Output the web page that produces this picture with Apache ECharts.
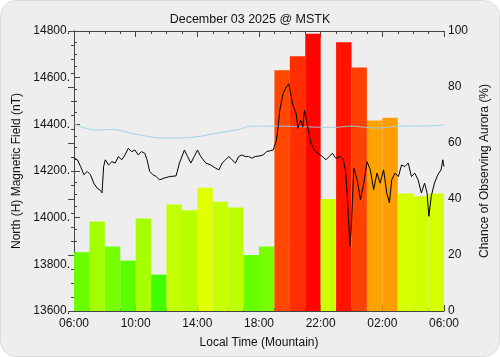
<!DOCTYPE html>
<html>
<head>
<meta charset="utf-8">
<script src="https://cdn.jsdelivr.net/npm/echarts@6/dist/echarts.min.js"></script>
<style>
  html, body { margin: 0; padding: 0; background: #fff; }
  #chart { width: 500px; height: 357px; background: #eeeeee; border-radius: 16px; box-sizing: border-box; border: 1px solid #dcdcdc; }
</style>
</head>
<body>
<div id="chart"></div>
<script>
// hourly aurora chance (%), from 06:00 local to 06:00 next day
var hourSlots = ['06','07','08','09','10','11','12','13','14','15','16','17','18','19','20','21','22','23','00','01','02','03','04','05'];
var auroraChance = [21, 32, 23, 18, 33, 13, 38, 36, 44, 39, 37, 20, 23, 86, 91, 99, 40, 96, 87, 68, 69, 42, 41, 42];

// magnetometer H component: hours after 06:00, nT
var magTime = [0.00,0.22,0.43,0.64,0.86,1.07,1.28,1.50,1.71,1.82,1.92,2.03,2.24,2.46,2.67,2.88,3.10,3.31,3.52,3.74,
  3.95,4.16,4.38,4.59,4.74,4.91,5.12,5.34,5.55,5.87,6.19,6.62,6.84,7.16,7.37,7.58,7.80,8.01,8.22,8.55,
  8.87,9.19,9.40,9.61,9.83,10.04,10.25,10.47,10.68,10.89,11.11,11.32,11.53,11.75,12.07,12.28,12.49,12.92,13.03,13.13,
  13.24,13.35,13.56,13.77,13.93,14.03,14.20,14.41,14.52,14.70,14.84,14.95,15.16,15.37,15.59,15.80,16.12,16.34,16.55,16.76,
  16.98,17.30,17.47,17.62,17.73,17.90,18.00,18.15,18.37,18.58,18.80,19.01,19.22,19.44,19.65,19.86,20.08,20.29,20.46,20.61,
  20.82,21.04,21.25,21.46,21.68,21.89,22.10,22.32,22.53,22.74,22.90,23.02,23.17,23.38,23.60,23.81,23.92,24.00];
var magField = [14255,14248,14219,14184,14198,14184,14148,14127,14117,14106,14219,14248,14226,14240,14234,14262,14248,14269,14297,14283,
  14290,14269,14283,14276,14248,14198,14184,14176,14162,14170,14176,14179,14234,14290,14262,14234,14262,14290,14262,14234,
  14226,14212,14205,14234,14248,14262,14248,14234,14262,14269,14262,14262,14255,14262,14265,14269,14283,14290,14297,14333,
  14389,14461,14532,14560,14574,14538,14482,14446,14383,14418,14389,14461,14389,14319,14290,14276,14262,14248,14262,14276,
  14255,14262,14248,14198,14091,13878,13978,14212,14162,14077,14148,14240,14205,14120,14191,14148,14205,14106,14063,14162,
  14191,14176,14226,14219,14234,14176,14191,14162,14106,14148,14106,14006,14091,14148,14184,14205,14248,14219];

// quiet-day baseline
var baseTime = [0, 1.5, 2.35, 4.06, 5.98, 7.48, 9.19, 10.68, 11.53, 13.45, 15.16, 16.87, 17.94, 19.0, 19.6, 21.14, 23.28, 24];
var baseField = [14404, 14375, 14378, 14357, 14341, 14344, 14361, 14378, 14392, 14392, 14389, 14387, 14392, 14387, 14384, 14392, 14394, 14398];

var timeTicks = ['06:00', '10:00', '14:00', '18:00', '22:00', '02:00', '06:00'];

function pairs(xs, ys) {
  return xs.map(function (x, i) { return [x, ys[i]]; });
}

var chart = echarts.init(document.getElementById('chart'), null, { renderer: 'canvas' });
var font = 'Liberation Sans';
var axisColor = '#444';

var timeAxisBase = {
  type: 'value',
  min: 0,
  max: 24,
  interval: 4,
  axisLine: { show: true, lineStyle: { color: axisColor } },
  axisTick: { show: true, inside: true, length: 6, lineStyle: { color: axisColor } },
  minorTick: { show: true, splitNumber: 4, length: 3, lineStyle: { color: axisColor } },
  splitLine: { show: false },
  minorSplitLine: { show: false }
};

option = {
  animation: false,
  textStyle: { fontFamily: font },
  title: {
    text: 'December 03 2025 @ MSTK',
    left: 'center',
    top: 7,
    textStyle: { fontSize: 12.5, fontWeight: 'normal', color: '#111', fontFamily: font }
  },
  grid: { left: 73, right: 52, top: 30, bottom: 45 },
  visualMap: {
    show: false,
    seriesIndex: 0,
    min: 0,
    max: 100,
    inRange: { color: ['#00ff00', '#ffff00', '#ff0000'] }
  },
  xAxis: [
    {
      type: 'category',
      data: hourSlots,
      boundaryGap: true,
      show: false
    },
    Object.assign({}, timeAxisBase, {
      position: 'bottom',
      name: 'Local Time (Mountain)',
      nameLocation: 'middle',
      nameGap: 26,
      nameTextStyle: { fontSize: 12, color: '#111', fontFamily: font },
      axisLabel: {
        margin: 7,
        fontSize: 12,
        color: '#111',
        fontFamily: font,
        formatter: function (v) { return timeTicks[Math.round(v / 4)]; }
      }
    }),
    Object.assign({}, timeAxisBase, {
      position: 'top',
      axisLabel: { show: false }
    })
  ],
  yAxis: [
    {
      type: 'value',
      min: 13600,
      max: 14800,
      interval: 200,
      position: 'left',
      name: 'North (H) Magnetic Field (nT)',
      nameLocation: 'middle',
      nameRotate: 90,
      nameGap: 49,
      nameTextStyle: { fontSize: 12, color: '#111', fontFamily: font },
      axisLine: { show: true, lineStyle: { color: axisColor } },
      axisTick: { show: true, inside: true, length: 6, lineStyle: { color: axisColor } },
      minorTick: { show: true, splitNumber: 4, length: 3, lineStyle: { color: axisColor } },
      splitLine: { show: false },
      axisLabel: {
        margin: 4,
        fontSize: 12,
        color: '#111',
        fontFamily: font,
        formatter: function (v) { return v + '.'; }
      }
    },
    {
      type: 'value',
      min: 0,
      max: 100,
      interval: 20,
      position: 'right',
      name: 'Chance of Observing Aurora (%)',
      nameLocation: 'middle',
      nameRotate: 90,
      nameGap: 35,
      nameTextStyle: { fontSize: 12, color: '#111', fontFamily: font },
      axisLine: { show: true, lineStyle: { color: axisColor } },
      axisTick: { show: true, inside: true, length: 6, lineStyle: { color: axisColor } },
      minorTick: { show: true, splitNumber: 4, length: 3, lineStyle: { color: axisColor } },
      splitLine: { show: false },
      axisLabel: { margin: 4, fontSize: 12, color: '#111', fontFamily: font }
    }
  ],
  series: [
    {
      name: 'Aurora chance',
      type: 'bar',
      xAxisIndex: 0,
      yAxisIndex: 1,
      barCategoryGap: '0%',
      data: auroraChance,
      z: 1
    },
    {
      name: 'Baseline',
      type: 'line',
      xAxisIndex: 1,
      yAxisIndex: 0,
      smooth: true,
      showSymbol: false,
      data: pairs(baseTime, baseField),
      lineStyle: { color: 'rgba(150,210,235,0.9)', width: 1 },
      z: 3
    },
    {
      name: 'H field',
      type: 'line',
      xAxisIndex: 1,
      yAxisIndex: 0,
      showSymbol: false,
      data: pairs(magTime, magField),
      lineStyle: { color: '#000', width: 1 },
      z: 4
    }
  ]
};
chart.setOption(option);
</script>
</body>
</html>
